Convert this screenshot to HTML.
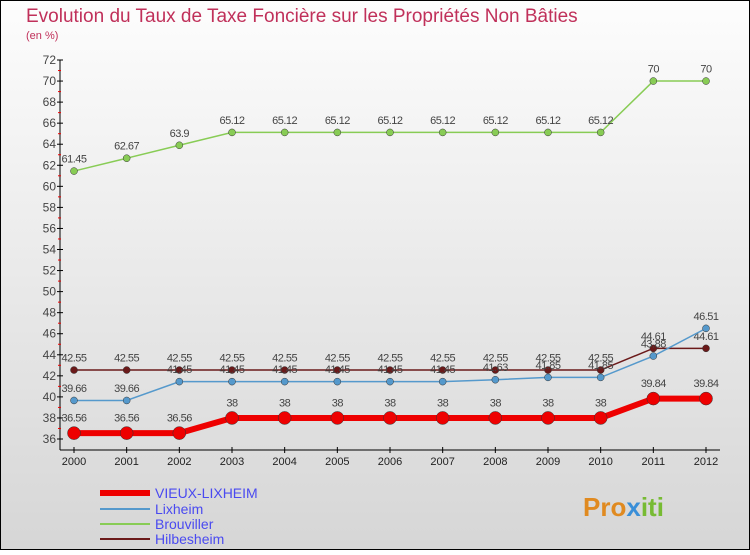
<!DOCTYPE html>
<html><head><meta charset="utf-8"><style>
body{margin:0;width:750px;height:550px;overflow:hidden;font-family:"Liberation Sans",sans-serif}
</style></head><body>
<svg width="750" height="550" xmlns="http://www.w3.org/2000/svg">
<defs><linearGradient id="bg" x1="0" y1="0" x2="0" y2="1"><stop offset="0" stop-color="#fdfdfd"/><stop offset="1" stop-color="#d6d6d6"/></linearGradient></defs>
<rect x="0.5" y="0.5" width="749" height="549" fill="url(#bg)" stroke="#000"/>
<text x="26" y="22" font-size="19" fill="#c0305a">Evolution du Taux de Taxe Foncière sur les Propriétés Non Bâties</text>
<text x="26" y="39" font-size="11" fill="#c0305a">(en %)</text>
<g id="axes"></g><g id="series"></g>
<g>
<line x1="100" y1="493" x2="150" y2="493" stroke="#ee0000" stroke-width="6"/>
<text x="155" y="498" font-size="14" fill="#4a4af0">VIEUX-LIXHEIM</text>
<line x1="100" y1="509" x2="150" y2="509" stroke="#5599cc" stroke-width="2"/>
<text x="155" y="514" font-size="14" fill="#4a4af0">Lixheim</text>
<line x1="100" y1="524" x2="150" y2="524" stroke="#88cc55" stroke-width="2"/>
<text x="155" y="529" font-size="14" fill="#4a4af0">Brouviller</text>
<line x1="100" y1="539" x2="150" y2="539" stroke="#6b1a1a" stroke-width="2"/>
<text x="155" y="544" font-size="14" fill="#4a4af0">Hilbesheim</text>
</g>
<text x="583" y="516" font-size="26" font-weight="bold" fill="#e08a20">Pro<tspan fill="#3a8fd8">x</tspan><tspan fill="#77bb33">iti</tspan></text>
</svg>
<script>
const years=[2000,2001,2002,2003,2004,2005,2006,2007,2008,2009,2010,2011,2012];
const yTicks=[36,38,40,42,44,46,48,50,52,54,56,58,60,62,64,66,68,70,72];
const vieux=[36.56,36.56,36.56,38,38,38,38,38,38,38,38,39.84,39.84];
const lixheim=[39.66,39.66,41.45,41.45,41.45,41.45,41.45,41.45,41.63,41.85,41.85,43.88,46.51];
const brouviller=[61.45,62.67,63.9,65.12,65.12,65.12,65.12,65.12,65.12,65.12,65.12,70,70];
const hilbesheim=[42.55,42.55,42.55,42.55,42.55,42.55,42.55,42.55,42.55,42.55,42.55,44.61,44.61];
const NS="http://www.w3.org/2000/svg";
const X=i=>74+i*(632/12), Y=v=>60+(72-v)*(379/36);
function mk(t,a,p){const e=document.createElementNS(NS,t);for(const k in a)e.setAttribute(k,a[k]);p.appendChild(e);return e;}
const ax=document.getElementById('axes');
let yl=mk('line',{x1:60,y1:60,x2:60,y2:450,stroke:'#000'},ax);


let xl=mk('line',{x1:60,y1:450,x2:720,y2:450,stroke:'#000'},ax);


yTicks.forEach(v=>{
 mk('line',{x1:57,y1:Y(v),x2:63,y2:Y(v),stroke:'#000'},ax);
 if(v<72)mk('line',{x1:58,y1:Y(v+1),x2:61,y2:Y(v+1),stroke:'#e00'},ax);
 const t=mk('text',{x:56,y:Y(v)+4,'font-size':12,'text-anchor':'end',fill:'#444'},ax);t.textContent=v;
 
 
});
years.forEach((y,i)=>{
 mk('line',{x1:X(i),y1:447,x2:X(i),y2:453,stroke:'#000'},ax);
 const t=mk('text',{x:X(i),y:465,'font-size':11,'text-anchor':'middle',fill:'#222'},ax);t.textContent=y;
 
 
});
const sg=document.getElementById('series');
function series(d,col,w,r,name,lo){
 const g=mk('g',{},sg);
 
 
 mk('polyline',{points:d.map((v,i)=>X(i)+','+Y(v)).join(' '),fill:'none',stroke:col,'stroke-width':w},g);
 d.forEach((v,i)=>{
  const c=mk('circle',{cx:X(i),cy:Y(v),r:r,fill:col,stroke:'#333','stroke-width':0.5},g);
  
  
  const t=mk('text',{x:X(i),y:Y(v)-(r+5),'font-size':11,'text-anchor':'middle',fill:'#444','letter-spacing':'-0.5'},g);
  t.textContent=String(v).replace(/(\.\d)0$/,'$1');
  
  
 });
}
series(brouviller,'#88cc55',1.5,3.5,'brouviller');
series(hilbesheim,'#6b1a1a',1.5,3.5,'hilbesheim');
series(lixheim,'#5599cc',1.5,3.5,'lixheim');
series(vieux,'#ee0000',6,6.5,'vieux-lixheim');
</script>
</body></html>
